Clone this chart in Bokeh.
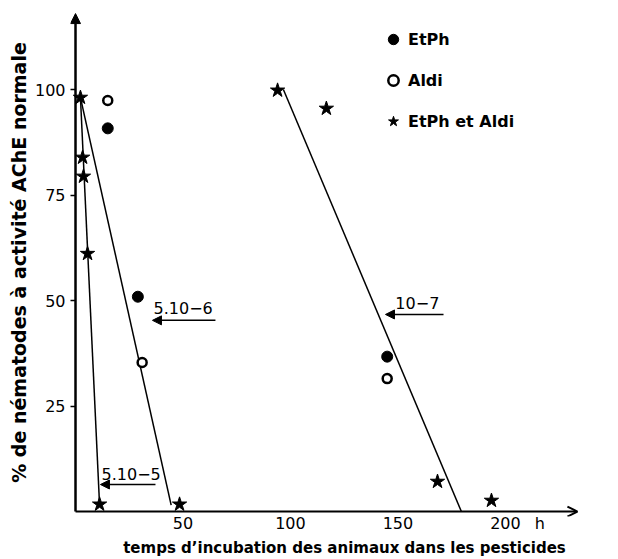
from bokeh.plotting import figure
from bokeh.models import (Arrow, NormalHead, OpenHead, Legend, LegendItem,
                          FixedTicker, Range1d, ColumnDataSource)
from bokeh.core.properties import value
from bokeh.embed import file_html
from bokeh.resources import INLINE

# ---- data ----
etph_x = [15, 29, 145]
etph_y = [90.8, 50.9, 36.7]

aldi_x = [15, 31, 145]
aldi_y = [97.4, 35.3, 31.5]

mix_x = [2.3, 3.3, 3.7, 5.6, 11.2, 48.4, 94, 116.7, 168.4, 193.5]
mix_y = [98.1, 83.9, 79.4, 61.1, 1.7, 1.7, 99.8, 95.5, 7.1, 2.6]

# fitted lines for each concentration
fit_xs = [[2.3, 11.2], [2.3, 44.5], [96.7, 179.5]]
fit_ys = [[98.1, 1.5], [98.1, 1.5], [100, 0]]

conc_labels = ["5.10\u22126", "5.10\u22125", "10\u22127"]
conc_label_x = [36.3, 12.1, 148.8]
conc_label_y = [48.3, 9.0, 49.4]
conc_arrow_x0 = [65.1, 37.2, 171.2]
conc_arrow_x1 = [35.8, 11.6, 144.2]
conc_arrow_y = [45.3, 6.4, 46.7]

x_ticks = [50, 100, 150, 200, 216]
x_tick_labels = {216: "h"}
y_ticks = [25, 50, 75, 100]
x_min, x_max = -2.33, 252.6
y_min, y_max = -1.18, 119.2
x_axis_end = 233.5
y_axis_end = 118

FONT = "DejaVu Sans"

p = figure(width=618, height=559, output_backend="svg", toolbar_location=None,
           x_range=Range1d(x_min, x_max), y_range=Range1d(y_min, y_max),
           min_border_left=70, min_border_right=0, min_border_top=8,
           min_border_bottom=43)
p.outline_line_color = None
p.grid.visible = False
p.background_fill_color = "white"
p.border_fill_color = "white"

for ax in (p.xaxis[0], p.yaxis[0]):
    ax.axis_line_color = None
    ax.minor_tick_line_color = None
    ax.major_tick_line_color = "black"
    ax.major_tick_line_width = 1.5
    ax.major_label_text_font = FONT
    ax.major_label_text_font_size = "16px"
    ax.major_label_text_color = "black"
    ax.axis_label_text_font = FONT
    ax.axis_label_text_font_style = "bold"
    ax.axis_label_text_color = "black"

p.xaxis.ticker = FixedTicker(ticks=x_ticks)
p.xaxis.major_label_overrides = x_tick_labels
p.xaxis.major_tick_line_color = None
p.xaxis.major_tick_in = 0
p.xaxis.major_tick_out = 0
p.xaxis.major_label_standoff = -3
p.xaxis.axis_label = "temps d\u2019incubation des animaux dans les pesticides"
p.xaxis.axis_label_text_font_size = "15px"
p.xaxis.axis_label_standoff = 3

p.yaxis.ticker = FixedTicker(ticks=y_ticks)
p.yaxis.major_tick_in = 5
p.yaxis.major_tick_out = 0
p.yaxis.major_label_standoff = 5
p.yaxis.axis_label = "% de n\u00e9matodes \u00e0 activit\u00e9 AChE normale"
p.yaxis.axis_label_text_font_size = "19px"
p.yaxis.axis_label_standoff = 2

# axes drawn as arrows
p.add_layout(Arrow(end=OpenHead(size=10, line_width=2, line_color="black"),
                   x_start=0, y_start=0, x_end=x_axis_end, y_end=0,
                   line_width=2, line_color="black"))
p.add_layout(Arrow(end=NormalHead(size=10, fill_color="black", line_color="black"),
                   x_start=0, y_start=0, x_end=0, y_end=y_axis_end,
                   line_width=2.5, line_color="black"))

# fitted lines
p.multi_line(xs=fit_xs, ys=fit_ys, line_color="black", line_width=1.5)

# points
r_etph = p.scatter(etph_x, etph_y, marker="circle", size=11, color="black")
r_aldi = p.scatter(aldi_x, aldi_y, marker="circle", size=9, fill_color="white",
                   line_color="black", line_width=2.5)
r_mix = p.scatter(mix_x, mix_y, marker="star", size=15, color="black")

# concentration labels and arrows
csrc = ColumnDataSource(dict(x0=conc_arrow_x0, x1=conc_arrow_x1, y=conc_arrow_y))
p.add_layout(Arrow(end=NormalHead(size=9, fill_color="black", line_color="black"),
                   x_start="x0", y_start="y", x_end="x1", y_end="y",
                   line_width=1.5, line_color="black", source=csrc))
p.text(x=conc_label_x, y=conc_label_y, text=conc_labels,
       text_font=value(FONT), text_font_size="16px", text_color="black",
       text_align="left", text_baseline="middle")

legend = Legend(items=[LegendItem(label="EtPh", renderers=[r_etph]),
                       LegendItem(label="Aldi", renderers=[r_aldi]),
                       LegendItem(label="EtPh et Aldi", renderers=[r_mix])],
                location=(310, 381), orientation="vertical",
                border_line_color=None, background_fill_alpha=0,
                padding=0, margin=0, spacing=13,
                glyph_width=26, glyph_height=28, label_height=28,
                label_standoff=2, label_text_font=FONT,
                label_text_font_style="bold", label_text_font_size="16px",
                label_text_color="black")
p.add_layout(legend)

open("out.html", "w").write(file_html(p, INLINE))
